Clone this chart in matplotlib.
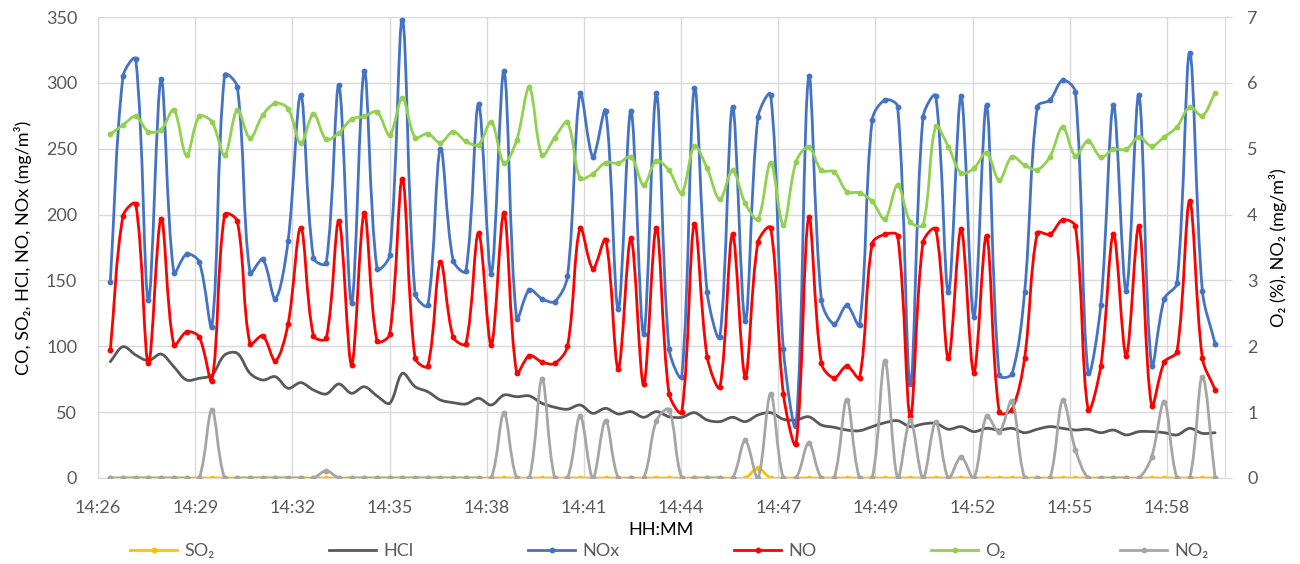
import matplotlib
matplotlib.use("Agg")
import matplotlib.pyplot as plt
import numpy as np
from matplotlib.path import Path
from matplotlib.patches import PathPatch
from matplotlib.lines import Line2D
from matplotlib.ticker import FixedLocator, FuncFormatter, MultipleLocator

plt.rcParams['font.family'] = ['Lato', 'DejaVu Sans']

# sample times (seconds after midnight) and axis scale
first_sample = 52034.7      # ~14:27:15
sample_step = 22.58         # seconds between samples
axis_start = 52012.8        # 0.602 day
tick_step = 172.8           # 0.002 day
axis_end = 54016.8

so2 = [0, 0, 0, 0, 0, 0, 0, 0, 0, 0, 0, 0, 0, 0, 0, 0, 0, 0, 0, 0, 0, 0,
       0, 0, 0, 0, 0, 0, 0, 0, 0, 0, 0, 0, 0, 0, 0, 0, 0, 0, 0, 0, 0, 0,
       0, 0, 0, 0, 0, 0, 0, 7.4, 0, 0, 0, 0, 0, 0, 0, 0, 0, 0, 0, 0, 0, 0,
       0, 0, 0, 0, 0, 0, 0, 0, 0, 0, 0, 0, 0, 0, 0, 0, 0, 0, 0, 0, 0, 0]

hcl = [88.3, 99.7, 93.4, 89.1, 94.1, 84.5, 74.4, 75.7, 78.2, 93.4,
       94.7, 79.5, 74.4, 76.9, 68.1, 72.4, 66.8, 63.8, 71.4, 64.3,
       69.3, 62.3, 56.7, 79.5, 69.3, 65.5, 59.2, 57.2, 56.2, 60.5,
       55.4, 63.0, 61.7, 62.3, 56.7, 53.7, 52.2, 55.4, 49.1, 52.9,
       48.6, 50.4, 46.1, 50.4, 46.5, 46.1, 49.6, 44.0, 42.8, 46.1,
       42.8, 47.8, 49.6, 44.6, 44.0, 46.5, 40.2, 38.5, 36.4, 35.9,
       39.0, 42.0, 43.5, 39.0, 41.0, 41.5, 37.0, 39.0, 35.2, 37.7,
       36.4, 37.7, 34.4, 37.0, 39.0, 37.7, 36.4, 37.0, 34.4, 36.4,
       32.7, 35.2, 35.2, 34.4, 32.7, 37.7, 33.9, 34.4]

nox = [149, 305, 318, 135, 303, 156, 170, 164, 115, 306,
       297, 156, 166, 136, 180, 291, 167, 163, 298, 133,
       309, 159, 169, 348, 140, 131, 250, 165, 157, 284,
       155, 309, 121, 143, 136, 134, 153, 292, 244, 279,
       128, 279, 109, 292, 98, 77, 296, 141, 107, 282,
       119, 274, 291, 98, 40, 305, 135, 117, 131, 116,
       272, 287, 282, 71, 274, 290, 141, 290, 122, 283,
       78, 79, 141, 282, 287, 302, 293, 80, 131, 283,
       142, 291, 85, 136, 148, 323, 142, 102]

no = [97, 199, 208, 87, 197, 101, 111, 107, 74, 200,
      195, 102, 108, 89, 117, 190, 108, 106, 195, 86,
      201, 104, 109, 227, 91, 85, 164, 107, 102, 186,
      101, 201, 80, 93, 88, 87, 100, 190, 159, 181,
      83, 182, 71, 190, 64, 50, 193, 92, 69, 185,
      77, 179, 190, 64, 26, 198, 87, 76, 85, 76,
      178, 185, 184, 47, 179, 189, 91, 189, 80, 184,
      50, 52, 91, 186, 185, 196, 191, 52, 85, 185,
      93, 191, 55, 88, 96, 210, 91, 67]

o2 = [5.22, 5.36, 5.49, 5.26, 5.29, 5.59, 4.90, 5.49, 5.41, 4.90,
      5.59, 5.16, 5.51, 5.69, 5.61, 5.08, 5.53, 5.14, 5.24, 5.45,
      5.49, 5.56, 5.21, 5.77, 5.17, 5.23, 5.09, 5.26, 5.11, 5.06,
      5.41, 4.78, 5.13, 5.93, 4.90, 5.17, 5.40, 4.55, 4.62, 4.79,
      4.78, 4.88, 4.45, 4.82, 4.67, 4.33, 5.04, 4.70, 4.23, 4.67,
      4.17, 3.93, 4.79, 3.84, 4.80, 5.03, 4.67, 4.65, 4.35, 4.33,
      4.20, 3.93, 4.45, 3.89, 3.84, 5.34, 5.03, 4.63, 4.70, 4.94,
      4.52, 4.88, 4.75, 4.68, 4.88, 5.33, 4.89, 5.12, 4.87, 4.99,
      4.99, 5.18, 5.04, 5.18, 5.33, 5.63, 5.50, 5.85]

no2 = [0, 0, 0, 0, 0, 0, 0, 0, 1.03, 0,
       0, 0, 0, 0, 0, 0, 0, 0.11, 0, 0,
       0, 0, 0, 0, 0, 0, 0, 0, 0, 0,
       0, 0.98, 0, 0, 1.50, 0, 0, 0.94, 0, 0.87,
       0, 0, 0, 0.87, 1.04, 0, 0, 0, 0, 0,
       0.57, 0, 1.28, 0, 0, 0.53, 0, 0, 1.19, 0,
       0, 1.78, 0, 0.88, 0, 0.85, 0, 0.32, 0, 0.94,
       0.70, 1.17, 0, 0, 0, 1.18, 0.43, 0, 0, 0,
       0, 0, 0.32, 1.16, 0, 0, 1.54, 0]

GRID = '#D9D9D9'
TEXT = '#595959'


def add_smooth_series(axis, x, y, colour, marker=True, z=2):
    # Excel style smoothed line: Bezier segments, tangents weighted by on-screen segment length
    pts = axis.transData.transform(np.column_stack([x, y]))
    n = len(pts)
    seg = np.hypot(*np.diff(pts, axis=0).T)
    seg = np.maximum(seg, 1e-6)
    after = np.zeros_like(pts)
    before = np.zeros_like(pts)
    for i in range(n):
        prev_p = pts[i - 1] if i > 0 else pts[i]
        next_p = pts[i + 1] if i < n - 1 else pts[i]
        d_prev = seg[i - 1] if i > 0 else 0.0
        d_next = seg[i] if i < n - 1 else 0.0
        tangent = next_p - prev_p
        total = d_prev + d_next
        after[i] = pts[i] + tangent * d_next / total / 3
        before[i] = pts[i] - tangent * d_prev / total / 3
    verts = [pts[0]]
    codes = [Path.MOVETO]
    for i in range(n - 1):
        verts += [after[i], before[i + 1], pts[i + 1]]
        codes += [Path.CURVE4] * 3
    verts = axis.transData.inverted().transform(np.array(verts))
    axis.add_patch(PathPatch(Path(verts, codes), facecolor='none', edgecolor=colour,
                             lw=2.0, zorder=z, capstyle='round', joinstyle='round'))
    if marker:
        axis.plot(x, y, linestyle='none', marker='o', markersize=3.2, color=colour, zorder=z + 0.1)


def time_label(seconds, _pos):
    return f"{int(seconds // 3600)}:{int(seconds % 3600 // 60):02d}"


times = first_sample + sample_step * np.arange(len(nox))

fig = plt.figure(figsize=(13, 5.64), dpi=100)
ax = fig.add_axes([98 / 1300, 1 - 478 / 564, (1225 - 98) / 1300, (478 - 17) / 564])
ax2 = ax.twinx()

ax.set_xlim(axis_start, axis_end)
ax.set_ylim(0, 350)
ax2.set_ylim(0, 7)

add_smooth_series(ax, times, so2, '#FFC000', z=2)
add_smooth_series(ax, times, hcl, '#595959', marker=False, z=3)
add_smooth_series(ax, times, nox, '#4472C4', z=4)
add_smooth_series(ax, times, no, '#FF0000', z=5)
add_smooth_series(ax2, times, o2, '#92D050', z=2)
add_smooth_series(ax2, times, no2, '#A5A5A5', z=3)

ax.set_xlim(axis_start, axis_end)
ax.set_ylim(0, 350)
ax2.set_ylim(0, 7)
ax.yaxis.set_major_locator(MultipleLocator(50))
ax2.yaxis.set_major_locator(MultipleLocator(1))
ax.xaxis.set_major_locator(FixedLocator(axis_start + tick_step * np.arange(12)))
ax.xaxis.set_major_formatter(FuncFormatter(time_label))

ax.grid(True, color=GRID, lw=1.0)
ax.set_axisbelow(True)
ax2.patch.set_visible(False)
ax.set_zorder(1)
ax2.set_zorder(2)

for s in ['top', 'right']:
    ax.spines[s].set_visible(False)
for s in ['top', 'left', 'bottom']:
    ax2.spines[s].set_visible(False)
ax.spines['left'].set_color(GRID)
ax.spines['bottom'].set_color(GRID)
ax2.spines['right'].set_color(GRID)

ax.tick_params(axis='y', length=0, pad=15, labelsize=13, labelcolor=TEXT)
ax.tick_params(axis='x', length=0, pad=16, labelsize=13, labelcolor=TEXT)
ax2.tick_params(axis='y', length=5, color=GRID, pad=11, labelsize=13, labelcolor=TEXT)

ax.set_ylabel('CO, SO₂, HCl, NO, NOx (mg/m³)', fontsize=13, color='#000000', labelpad=10)
ax2.set_ylabel('O₂ (%), NO₂ (mg/m³)', fontsize=13, color='#000000', labelpad=8)
ax.set_xlabel('HH:MM', fontsize=13, color='#000000', labelpad=4)

handles = [
    Line2D([], [], color='#FFC000', lw=2, marker='o', markersize=3.2),
    Line2D([], [], color='#595959', lw=2),
    Line2D([], [], color='#4472C4', lw=2, marker='o', markersize=3.2),
    Line2D([], [], color='#FF0000', lw=2, marker='o', markersize=3.2),
    Line2D([], [], color='#92D050', lw=2, marker='o', markersize=3.2),
    Line2D([], [], color='#A5A5A5', lw=2, marker='o', markersize=3.2),
]
labels = ['SO₂', 'HCl', 'NOx', 'NO', 'O₂', 'NO₂']
fig.legend(handles, labels, loc='center', bbox_to_anchor=(0.515, 1 - 551 / 564), ncol=6,
           frameon=False, fontsize=13, labelcolor=TEXT, handlelength=2.6,
           handletextpad=0.4, columnspacing=6.35)

fig.savefig('out.png', dpi=100)
